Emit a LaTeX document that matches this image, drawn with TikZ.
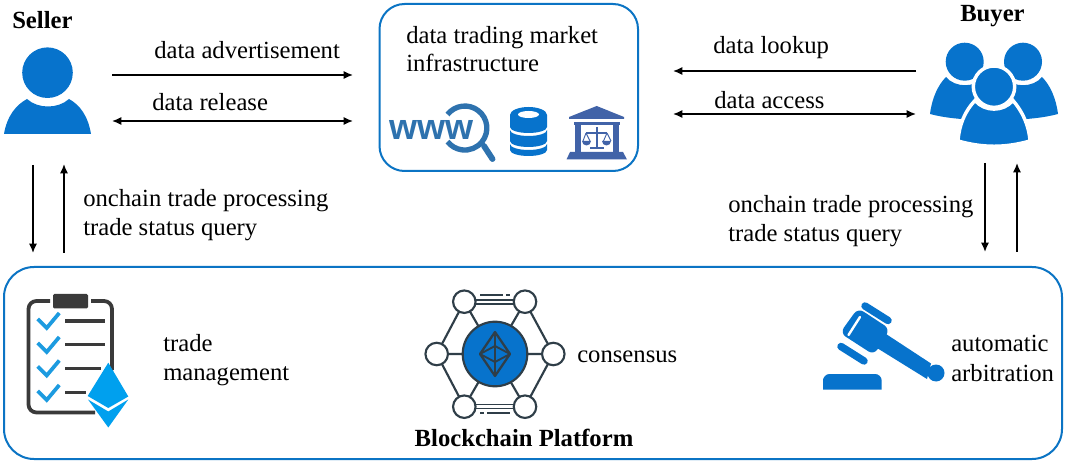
\documentclass[tikz,border=0pt]{standalone}
\usepackage{fontspec}
\setmainfont{Liberation Serif}
\newfontfamily\iconfont{Liberation Sans}
\usetikzlibrary{arrows.meta}
\definecolor{bluemain}{HTML}{0773CC}
\definecolor{boxblue}{HTML}{0B74C4}
\definecolor{wwwblue}{HTML}{2E72AE}
\definecolor{bank}{HTML}{4163A8}
\definecolor{darkline}{HTML}{3A3A3A}
\definecolor{netline}{HTML}{2F3E48}
\definecolor{tick}{HTML}{1C9BE0}
\definecolor{eth}{HTML}{00A0EE}
\tikzset{
  lbl/.style={anchor=base west,inner sep=0pt,font=\fontsize{18.5}{22}\selectfont},
  title/.style={inner sep=0pt,font=\fontsize{18.5}{22}\selectfont\bfseries},
  conn/.style={draw=black,line width=1.1pt,-{Latex[length=7pt,width=6pt]}},
  conntwo/.style={draw=black,line width=1.1pt,{Latex[length=7pt,width=6pt]}-{Latex[length=7pt,width=6pt]}},
  panel/.style={draw=boxblue,line width=1.5pt,fill=white},
  ticks/.style={draw=tick,line width=2.8pt,miter limit=10},
  rowline/.style={draw=darkline,line width=2.8pt},
  netl/.style={draw=netline,line width=1.6pt},
  smallc/.style={circle,draw=netline,line width=1.6pt,fill=white,minimum size=22.5pt*0.75,inner sep=0pt},
}
\begin{document}
\begin{tikzpicture}[x=0.75pt,y=-0.75pt]
\useasboundingbox (0,0) rectangle (1071,463);
\fill[white] (0,0) rectangle (1071,463);
% panels
\draw[panel,rounded corners=25*0.75pt] (379.5,4) rectangle (638,171);
\draw[panel,rounded corners=30*0.75pt] (4,267) rectangle (1062,459);
% seller
\fill[bluemain] (47.5,72.7) circle (25.3);
\fill[bluemain] (4,134) .. controls (7,116) and (16,105) .. (27,99) .. controls (38,109) and (58,109) .. (69,99) .. controls (80,105) and (88,116) .. (91,134) -- cycle;
% buyer
\fill[bluemain] (930,114) .. controls (932,98) and (938,85) .. (946,77) .. controls (955,88) and (975,88) .. (984,77) -- (975,120) .. controls (960,119) and (945,118) .. (930,114) -- cycle;
\fill[bluemain] (1058,114) .. controls (1056,98) and (1050,85) .. (1042,77) .. controls (1033,88) and (1013,88) .. (1004,77) -- (1013,120) .. controls (1028,119) and (1043,118) .. (1058,114) -- cycle;
\fill[bluemain] (964.7,61.7) circle (19);
\fill[bluemain] (1023,61.7) circle (19);
\filldraw[fill=bluemain,draw=white,line width=2.6pt] (958,141) .. controls (959,125) and (965,111) .. (975,100.5) .. controls (985,112) and (1003,112) .. (1013,100.5) .. controls (1022,111) and (1029,125) .. (1030,141) .. controls (1005,148) and (983,148) .. (958,141) -- cycle;
\filldraw[fill=bluemain,draw=white,line width=2.6pt] (994,86.7) circle (20.7);
% texts
\node[title,anchor=base west] (seller) at (12,29) {Seller};
\node[title,anchor=base west] (buyer) at (960,22) {Buyer};
\node[lbl] (advert) at (154,59) {data advertisement};
\node[lbl] (release) at (152,111) {data release};
\node[lbl] (market1) at (406,44) {data trading market};
\node[lbl] (market2) at (406,72) {infrastructure};
\node[lbl] (lookup) at (713,54) {data lookup};
\node[lbl] (access) at (714,108.5) {data access};
\node[lbl] (on1) at (83,207) {onchain trade processing};
\node[lbl] (on2) at (83,236) {trade status query};
\node[lbl] (on3) at (728,213) {onchain trade processing};
\node[lbl] (on4) at (728,242) {trade status query};
\node[lbl] (tm1) at (163,351) {trade};
\node[lbl] (tm2) at (163,380) {management};
\node[lbl] (cons) at (577,362) {consensus};
\node[lbl] (aa1) at (951,352) {automatic};
\node[lbl] (aa2) at (951,381) {arbitration};
\node[title,anchor=base] (plat) at (524,446) {Blockchain Platform};
% connector ends
\coordinate (a1) at (112,75); \coordinate (a2) at (353,75);
\coordinate (b1) at (112,121); \coordinate (b2) at (353,121);
\coordinate (c1) at (916,71); \coordinate (c2) at (673,71);
\coordinate (d1) at (673,114); \coordinate (d2) at (916,114);
\coordinate (e1) at (33,165); \coordinate (e2) at (33,253);
\coordinate (f1) at (64,253); \coordinate (f2) at (64,164);
\coordinate (g1) at (985,163); \coordinate (g2) at (985,252);
\coordinate (h1) at (1017,252); \coordinate (h2) at (1017,163);
\draw[conn] (a1) -- (a2);
\draw[conntwo] (b1) -- (b2);
\draw[conn] (c1) -- (c2);
\draw[conntwo] (d1) -- (d2);
\draw[conn] (e1) -- (e2);
\draw[conn] (f1) -- (f2);
\draw[conn] (g1) -- (g2);
\draw[conn] (h1) -- (h2);
% www search icon
\node[inner sep=0pt,anchor=base west,text=wwwblue,font=\iconfont\bfseries\fontsize{27}{28}\selectfont] (www) at (389.5,140) {www};
\draw[wwwblue,line width=4pt] (447.5,114.5) arc[start angle=142,end angle=-142,radius=22*0.75pt];
\draw[wwwblue,line width=4.4pt,line cap=round] (484,146) -- (492.5,159);
% database
\fill[bluemain] (510,115) arc[start angle=180,end angle=0,x radius=18.5*0.75pt,y radius=8*0.75pt] -- (547,127) arc[start angle=0,end angle=-180,x radius=18.5*0.75pt,y radius=6*0.75pt] -- cycle;
\fill[white] (528.5,114.5) ellipse [x radius=10.5*0.75pt,y radius=3.5*0.75pt];
\fill[bluemain] (510,130) arc[start angle=180,end angle=360,x radius=18.5*0.75pt,y radius=6*0.75pt] -- (547,141) arc[start angle=0,end angle=-180,x radius=18.5*0.75pt,y radius=6*0.75pt] -- cycle;
\fill[bluemain] (510,144) arc[start angle=180,end angle=360,x radius=18.5*0.75pt,y radius=6*0.75pt] -- (547,150) arc[start angle=0,end angle=-180,x radius=18.5*0.75pt,y radius=6*0.75pt] -- cycle;
% bank
\fill[bank] (596.7,106) -- (624,117) -- (624,119) -- (569,119) -- (569,117) -- cycle;
\fill[bank] (574,122) rectangle (620,125);
\fill[bank] (575,125) rectangle (580.5,152);
\fill[bank] (613,125) rectangle (618.5,152);
\fill[bank] (570,152) -- (623,152) -- (627,159.5) -- (566.5,159.5) -- cycle;
\draw[bank,line width=1.2pt] (596.7,127) -- (596.7,147);
\draw[bank,line width=1.8pt] (590,148) -- (603.5,148);
\draw[bank,line width=1pt] (586,133) -- (607,133);
\draw[bank,line width=.7pt] (586,133) -- (583,141) (586,133) -- (590,141) (607,133) -- (603.5,141) (607,133) -- (611,141);
\fill[bank] (582,141) arc[start angle=180,end angle=360,radius=4.5*0.75pt] -- cycle;
\fill[bank] (602,141) arc[start angle=180,end angle=360,radius=4.5*0.75pt] -- cycle;
% clipboard
\draw[darkline,line width=2.8pt,rounded corners=6pt] (50,301) -- (28.5,301) -- (28.5,412.5) -- (95,412.5);
\draw[darkline,line width=2.8pt,rounded corners=6pt] (91,301) -- (112,301) -- (112,370);
\fill[darkline,rounded corners=1pt] (53,294) rectangle (88,308.5);
\foreach \yy in {0,24,47.5,72}{
  \draw[ticks] (37.7,319+\yy) -- (46.7,328+\yy) -- (59.3,313+\yy);
}
\draw[rowline] (65,320.7) -- (104.5,320.7);
\draw[rowline] (65,344.5) -- (104.5,344.5);
\draw[rowline] (65,368.5) -- (101,368.5);
\draw[rowline] (65,392.5) -- (86,392.5);
\fill[eth] (108.3,362.7) -- (128.3,396.5) -- (108.3,408) -- (87.7,396) -- cycle;
\fill[eth] (88,399.5) -- (108.3,411.5) -- (128.3,399.5) -- (108.3,427.5) -- cycle;
% network
\draw[netline,line width=1.2pt] (464.3,300) -- (525,300);
\draw[netline,line width=1.2pt] (464.3,304) -- (525,304);
\draw[netline,line width=1.2pt] (464.3,404.5) -- (525,404.5);
\draw[netline,line width=1.2pt] (464.3,408.5) -- (525,408.5);
\draw[netl] (525,301.7) -- (553.3,354) -- (525,406.7);
\draw[netl] (464.3,406.7) -- (436.7,354) -- (464.3,301.7);
\draw[netl] (464.3,301.7) -- (525,406.7) (525,301.7) -- (464.3,406.7) (436.7,354) -- (553.3,354);
\draw[netl] (480,295.3) -- (503,295.3) (506,295.3) -- (510,295.3);
\draw[netl] (480,413) -- (484,413) (487,413) -- (510,413);
\node[smallc] (n1) at (464.3,301.7) {};
\node[smallc] (n2) at (525,301.7) {};
\node[smallc] (n3) at (436.7,354) {};
\node[smallc] (n4) at (553.3,354) {};
\node[smallc] (n5) at (464.3,406.7) {};
\node[smallc] (n6) at (525,406.7) {};
\filldraw[fill=bluemain,draw=netline,line width=1.6pt] (495,354) circle (32.3);
\draw[netline,line width=1.7pt,line join=round] (495,332) -- (480,354) -- (495,376) -- (510,354) -- cycle;
\draw[netline,line width=1.4pt,line join=round] (495,332) -- (495,376) (480,354) -- (495,346) -- (510,354) -- (495,362) -- cycle;
% gavel
\fill[bluemain] (886,334) -- (931,363.5) -- (927,379) -- (877,348) -- cycle;
\fill[bluemain] (936,373) circle (8.5);
\fill[bluemain,rounded corners=5pt] (858,308) -- (890,329) -- (874,355) -- (840,333) -- cycle;
\draw[white,line width=1.8pt,line cap=round] (860,317) -- (848.5,335);
\draw[bluemain,line width=5.6pt,line cap=round] (865,306) -- (888,320.5);
\draw[bluemain,line width=5.6pt,line cap=round] (841,346.5) -- (864,361);
\fill[bluemain] (823,389.5) -- (823,379) [rounded corners=5pt] -- (823,374) -- (881.7,374) [sharp corners] -- (881.7,389.5) -- cycle;
\end{tikzpicture}
\end{document}
